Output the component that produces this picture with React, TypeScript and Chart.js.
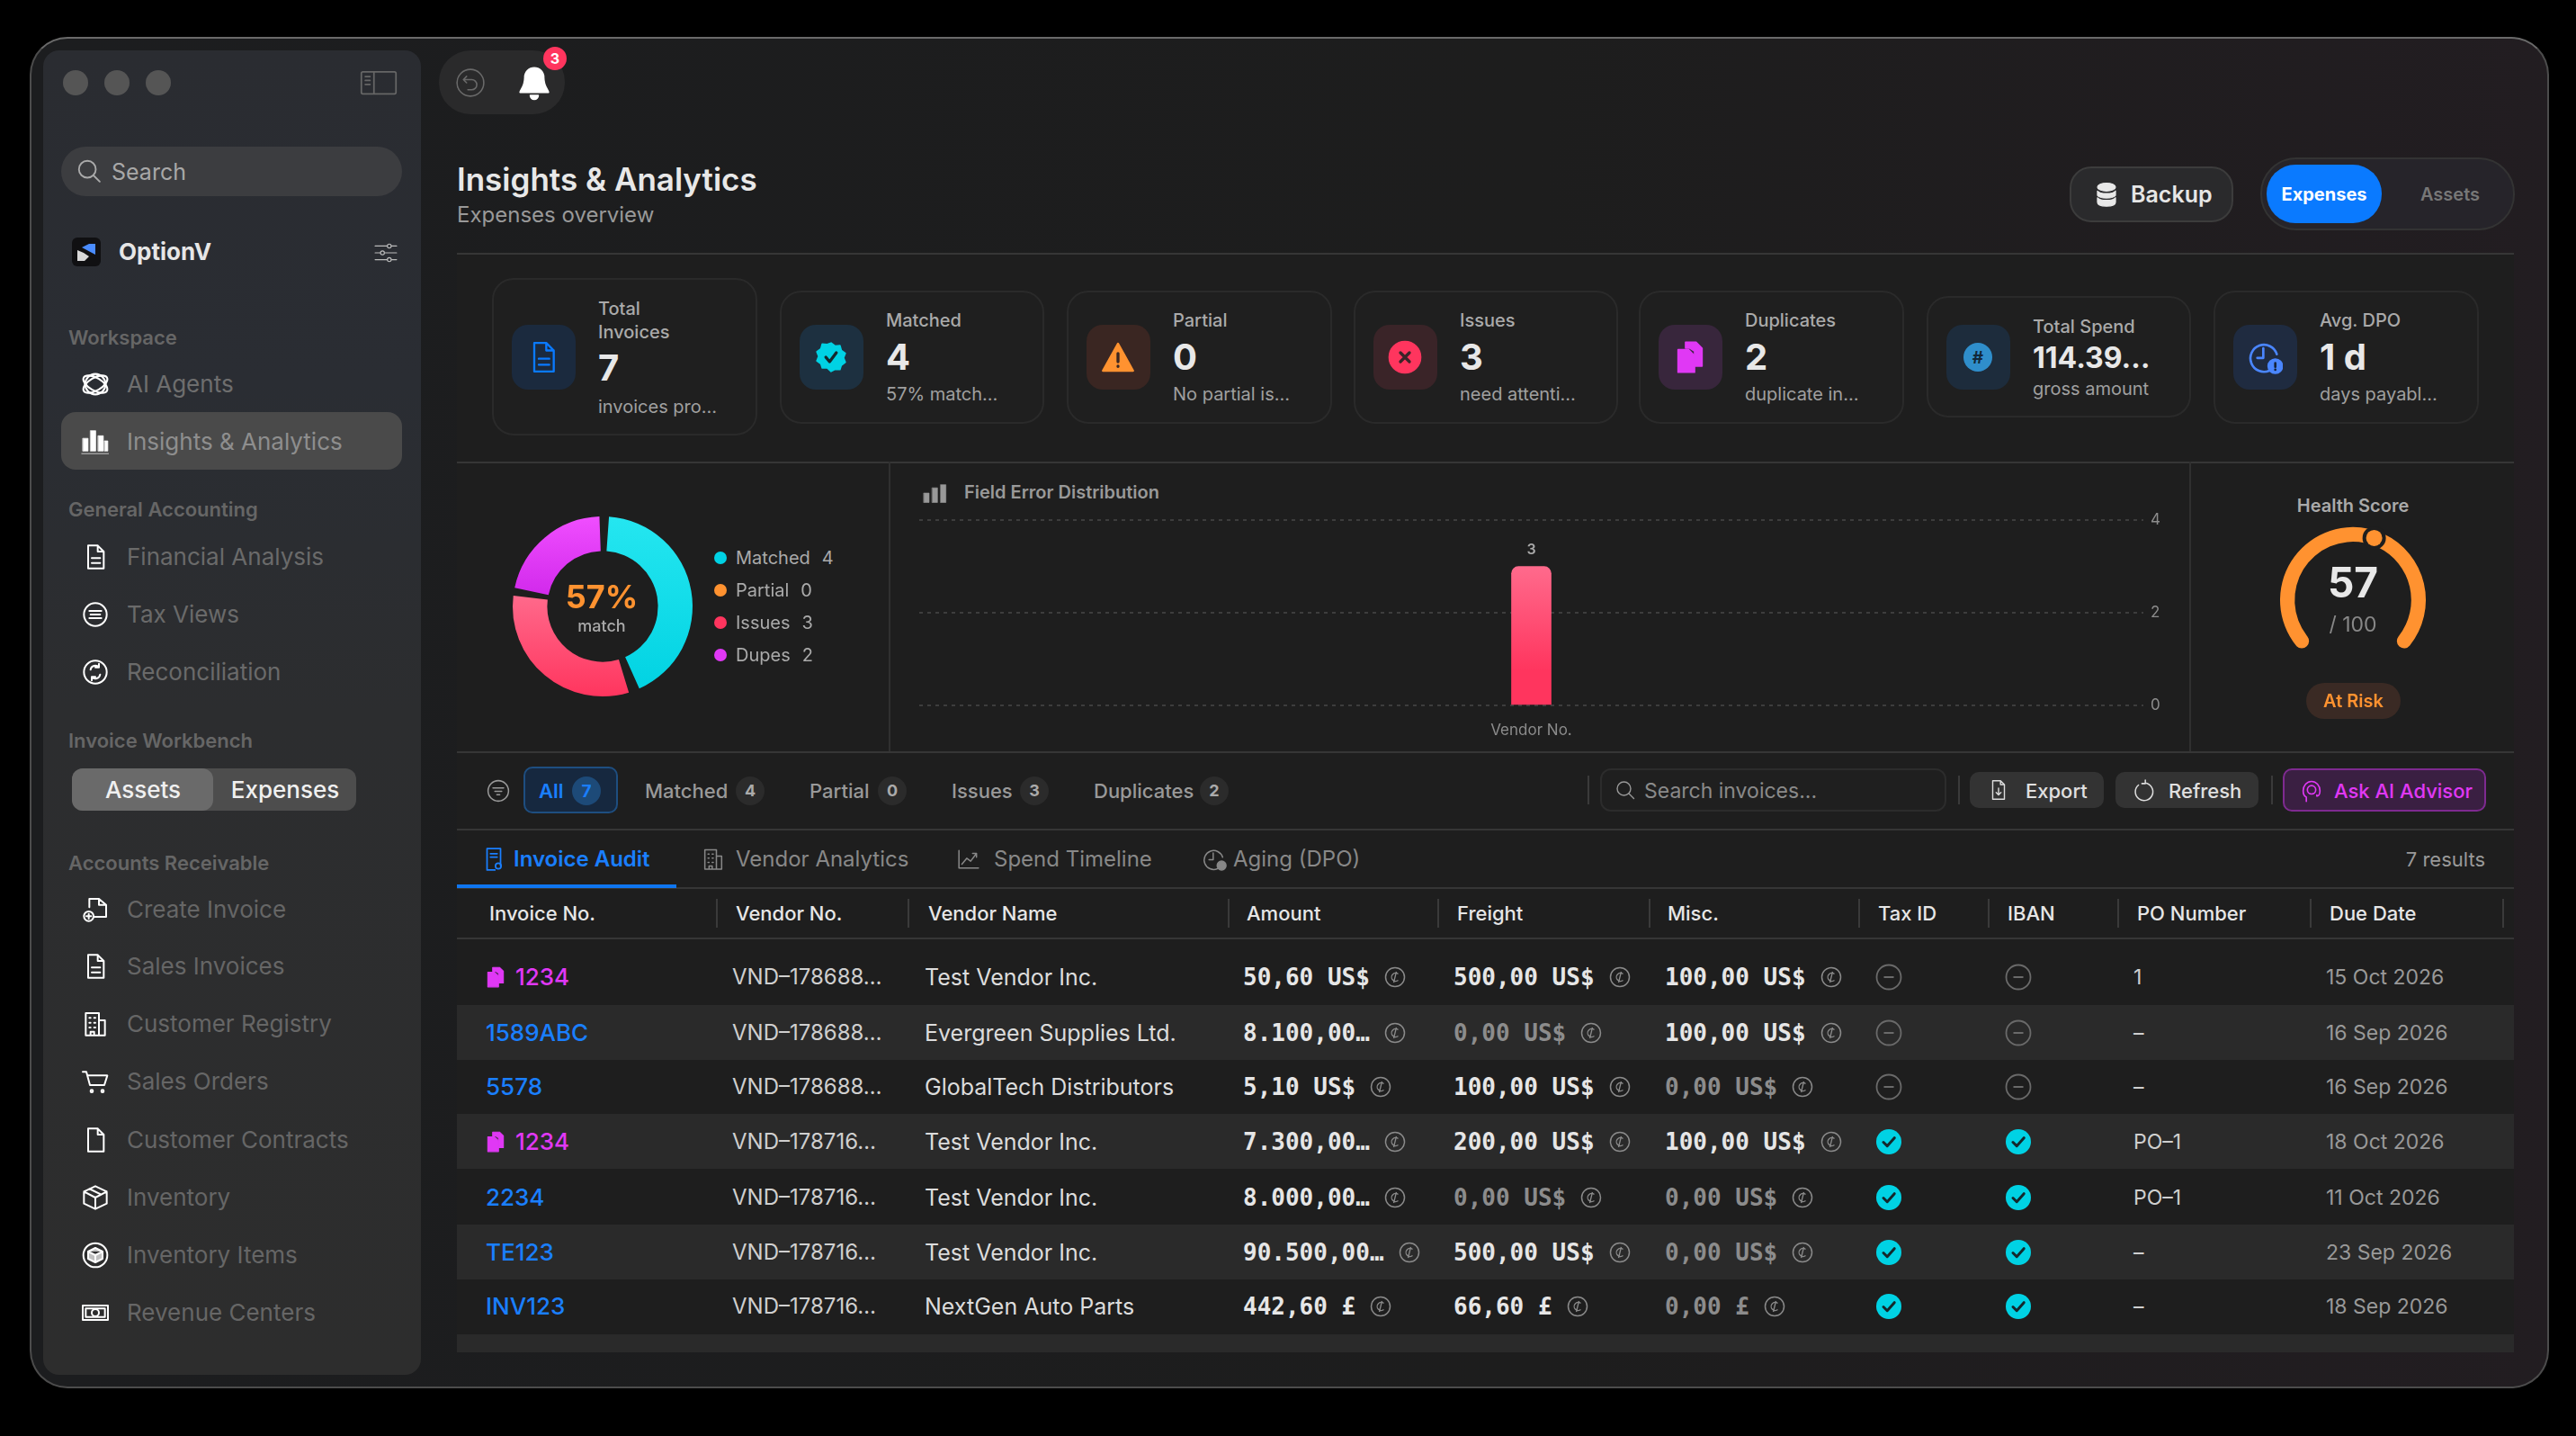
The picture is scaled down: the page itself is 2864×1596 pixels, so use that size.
import React, { useEffect, useRef } from "react";
import { Chart, registerables } from "chart.js";

Chart.register(...registerables);

const FONT = "Inter, 'Noto Sans', sans-serif";
const MONO = "'DejaVu Sans Mono', monospace";

// ---- chart data
const donutLabels = ["Matched", "Partial", "Issues", "Dupes"];
const donutValues = [4, 0, 3, 2];
const barLabels = ["Vendor No."];
const barValues = [3];
const axisMax = 4;
const axisStep = 2;
const healthScore = 57;
const healthMax = 100;

// ---- KPI cards
const kpiLabels = ["Total Invoices", "Matched", "Partial", "Issues", "Duplicates", "Total Spend", "Avg. DPO"];
const kpiValues = ["7", "4", "0", "3", "2", "114.39…", "1 d"];
const kpiNotes = ["invoices pro…", "57% match…", "No partial is…", "need attenti…", "duplicate in…", "gross amount", "days payabl…"];

// ---- table
const headers = ["Invoice No.", "Vendor No.", "Vendor Name", "Amount", "Freight", "Misc.", "Tax ID", "IBAN", "PO Number", "Due Date"];
const invoiceNos = ["1234", "1589ABC", "5578", "1234", "2234", "TE123", "INV123"];
const duplicateRows = [true, false, false, true, false, false, false];
const vendorNos = ["VND–178688…", "VND–178688…", "VND–178688…", "VND–178716…", "VND–178716…", "VND–178716…", "VND–178716…"];
const vendorNames = ["Test Vendor Inc.", "Evergreen Supplies Ltd.", "GlobalTech Distributors", "Test Vendor Inc.", "Test Vendor Inc.", "Test Vendor Inc.", "NextGen Auto Parts"];
const amounts = ["50,60 US$", "8.100,00…", "5,10 US$", "7.300,00…", "8.000,00…", "90.500,00…", "442,60 £"];
const freights = ["500,00 US$", "0,00 US$", "100,00 US$", "200,00 US$", "0,00 US$", "500,00 US$", "66,60 £"];
const miscs = ["100,00 US$", "100,00 US$", "0,00 US$", "100,00 US$", "0,00 US$", "0,00 US$", "0,00 £"];
const verified = [false, false, false, true, true, true, true];
const poNumbers = ["1", "–", "–", "PO–1", "PO–1", "–", "–"];
const dueDates = ["15 Oct 2026", "16 Sep 2026", "16 Sep 2026", "18 Oct 2026", "11 Oct 2026", "23 Sep 2026", "18 Sep 2026"];

// ---- filters + nav
const filterLabels = ["Matched", "Partial", "Issues", "Duplicates"];
const filterCounts = [4, 0, 3, 2];
const generalItems = ["Financial Analysis", "Tax Views", "Reconciliation"];
const receivableItems = ["Create Invoice", "Sales Invoices", "Customer Registry", "Sales Orders", "Customer Contracts", "Inventory", "Inventory Items", "Revenue Centers"];

const donutColors = [
  ["#25e6f0", "#00d2e2"],
  ["#ff9230", "#ff9230"],
  ["#ff6a8c", "#ff355e"],
  ["#f04eff", "#d22aec"],
];
const BG = "#1e1e1e";

const T = ({ x, y, s = 20, c = "#aaa", w = 400, a = "l", f = FONT, children }: any) => (
  <div
    style={{
      position: "absolute",
      left: x,
      top: y,
      fontFamily: f,
      fontSize: s,
      fontWeight: w,
      color: c,
      lineHeight: 1,
      whiteSpace: "nowrap",
      transform: `translate(${a === "c" ? "-50%" : a === "r" ? "-100%" : "0"},-50%)`,
    }}
  >
    {children}
  </div>
);

const Box = ({ x, y, x2, y2, bg, r = 0, b, st }: any) => (
  <div
    style={{
      position: "absolute",
      left: x,
      top: y,
      width: x2 - x,
      height: y2 - y,
      background: bg,
      borderRadius: r,
      boxSizing: "border-box",
      border: b ? `${st || 2}px solid ${b}` : undefined,
    }}
  />
);

const Svg = ({ x, y, w, h, c = "#fff", sw = 1.5, fill = "none", children }: any) => (
  <svg
    style={{ position: "absolute", left: x, top: y }}
    width={w}
    height={h || w}
    viewBox="0 0 24 24"
    fill={fill}
    stroke={c}
    strokeWidth={sw}
    strokeLinecap="round"
    strokeLinejoin="round"
  >
    {children}
  </svg>
);

const DocShape = () => <path d="M6 2.5h8l5 5v14H6z M14 2.5v5h5" />;
const DocLines = () => (
  <>
    <path d="M6 2.5h8l5 5v14H6z M14 2.5v5h5" />
    <path d="M9 13h7M9 17h7" />
  </>
);
const Building = () => <path d="M4 21.5V3h11v18.5zM15 9h5v12.5h-5M7 7h1M11 7h1M7 11h1M11 11h1M7 15h1M11 15h1M8 21.5v-3h3v3" />;

const navIcons: any = {
  "Financial Analysis": <DocLines />,
  "Tax Views": (
    <>
      <circle cx="12" cy="12" r="9.5" />
      <path d="M7 9h10M8 12h8M7 15h10" />
    </>
  ),
  Reconciliation: (
    <>
      <circle cx="12" cy="12" r="9.5" />
      <path d="M8 10a4 4 0 0 1 7-2M16 14a4 4 0 0 1-7 2M15 5v3h-3M9 19v-3h3" />
    </>
  ),
  "Create Invoice": (
    <>
      <path d="M7 10V3h8l6 5v10H11M15 3v5h6" />
      <circle cx="6.5" cy="17.5" r="4" />
      <path d="M4.5 17.5h4M6.5 15.5v4" />
    </>
  ),
  "Sales Invoices": <DocLines />,
  "Customer Registry": <Building />,
  "Sales Orders": (
    <>
      <path d="M1.5 4h3l3 11h12l2.5-8H5.5" />
      <circle cx="9" cy="20" r="1" />
      <circle cx="18" cy="20" r="1" />
    </>
  ),
  "Customer Contracts": <DocShape />,
  Inventory: <path d="M12 2.5l9.5 4.5v10L12 21.5 2.5 17V7zM2.5 7L12 12l9.5-5M12 12v9.5M7 4.7l9.5 4.6" />,
  "Inventory Items": (
    <>
      <circle cx="12" cy="12" r="10" />
      <path d="M12 6l6 3v6l-6 3-6-3V9zM6 9l6 3 6-3M12 12v6" fill="#fff" fillOpacity="0.7" />
    </>
  ),
  "Revenue Centers": (
    <>
      <path d="M1.5 6h21v12h-21zM4 8.5h16v7H4z" />
      <circle cx="12" cy="12" r="3" />
    </>
  ),
};

const Coin = ({ ml }: any) => (
  <svg width={24} height={24} viewBox="0 0 24 24" fill="none" stroke="#8a8a8a" strokeWidth="1.5" style={{ marginLeft: ml, flex: "none" }}>
    <circle cx="12" cy="12" r="10.5" />
    <path d="M15.5 8.5a4.5 4.5 0 1 0 0 7M13.5 6l-3 12" strokeWidth="1.3" />
  </svg>
);

const Money = ({ x, y, v }: any) => (
  <div
    style={{
      position: "absolute",
      left: x,
      top: y,
      transform: "translateY(-50%)",
      display: "flex",
      alignItems: "center",
      fontFamily: MONO,
      fontWeight: 700,
      fontSize: 26,
      whiteSpace: "nowrap",
      color: v.startsWith("0,00") ? "#8c8c8c" : "#e6e6e6",
      lineHeight: 1,
    }}
  >
    <span>{v}</span>
    <Coin ml={16} />
  </div>
);

const Status = ({ x, y, ok }: any) =>
  ok ? (
    <svg style={{ position: "absolute", left: x - 15, top: y - 15 }} width={30} height={30} viewBox="0 0 30 30">
      <circle cx="15" cy="15" r="14" fill="#00d2e4" />
      <path d="M9 15.5l4.2 4.2 8-9" fill="none" stroke="#14282c" strokeWidth="3" strokeLinecap="round" strokeLinejoin="round" />
    </svg>
  ) : (
    <svg style={{ position: "absolute", left: x - 15, top: y - 15 }} width={30} height={30} viewBox="0 0 30 30">
      <circle cx="15" cy="15" r="13.5" fill="none" stroke="#6a6a6a" strokeWidth="1.8" />
      <path d="M9.5 15h11" stroke="#6a6a6a" strokeWidth="2" />
    </svg>
  );

const kpiCards = [
  { x: 547, x2: 842, y: 309, y2: 484, bg: "#1b2a3e", ly: [343, 369], ny: 409, ty: 452, ns: 40 },
  { x: 867, x2: 1161, y: 323, y2: 471, bg: "#1d3040", ly: [356], ny: 397, ty: 438, ns: 40 },
  { x: 1186, x2: 1481, y: 323, y2: 471, bg: "#3a2622", ly: [356], ny: 397, ty: 438, ns: 40 },
  { x: 1505, x2: 1799, y: 323, y2: 471, bg: "#3a2428", ly: [356], ny: 397, ty: 438, ns: 40 },
  { x: 1822, x2: 2117, y: 323, y2: 471, bg: "#38263c", ly: [356], ny: 397, ty: 438, ns: 40 },
  { x: 2142, x2: 2436, y: 329, y2: 464, bg: "#1d2c3c", ly: [363], ny: 398, ty: 432, ns: 32 },
  { x: 2461, x2: 2756, y: 323, y2: 471, bg: "#1f2b40", ly: [356], ny: 397, ty: 438, ns: 40 },
];

const KpiIcon = ({ i, x, y }: any) => {
  const ix = x + 35 - 20;
  const iy = y - 20;
  if (i === 0)
    return (
      <Svg x={ix} y={iy} w={40} c="#0a7aff" sw={1.4}>
        <DocLines />
      </Svg>
    );
  if (i === 1)
    return (
      <Svg x={ix} y={iy} w={40} c="#00d2e4" fill="#00d2e4" sw={1}>
        <path d="M12 2.5l2.6 2 3.3-.3.9 3.2 2.7 2-1.2 3 1.2 3-2.7 2-.9 2.8-3.3-.1L12 21.5l-2.6-2.4-3.3.1-.9-2.8-2.7-2 1.2-3-1.2-3 2.7-2 .9-3.2 3.3.3z" />
        <path d="M8.5 12l2.5 3 4.5-6" stroke="#14282c" strokeWidth="2" fill="none" />
      </Svg>
    );
  if (i === 2)
    return (
      <Svg x={ix} y={iy} w={40} c="#ff9230" fill="#ff9230" sw={1.5}>
        <path d="M12 3L22 21H2z" />
        <path d="M12 9.5v5.5M12 18v.2" stroke="#3a2622" strokeWidth="2" />
      </Svg>
    );
  if (i === 3)
    return (
      <Svg x={ix} y={iy} w={40} c="#ff355e" fill="#ff355e" sw={1}>
        <circle cx="12" cy="12" r="10.5" />
        <path d="M9 9l6 6M15 9l-6 6" stroke="#3a2428" strokeWidth="2" />
      </Svg>
    );
  if (i === 4)
    return (
      <Svg x={ix} y={iy} w={40} c="#e038f5" fill="#e038f5" sw={1}>
        <path d="M9 2h7l4 4v12h-5V8l-3-2H9z" />
        <path d="M4 7h7l4 4v11H4z" />
      </Svg>
    );
  if (i === 5)
    return (
      <svg style={{ position: "absolute", left: ix + 3, top: iy + 3 }} width={34} height={34} viewBox="0 0 34 34">
        <circle cx="17" cy="17" r="16" fill="#2f8ecb" />
        <text x="17" y="23.5" textAnchor="middle" fontFamily={FONT} fontSize="19" fontWeight="700" fill="#12283a">
          #
        </text>
      </svg>
    );
  return (
    <Svg x={ix} y={iy} w={40} c="#4a86ff" sw={1.6}>
      <path d="M20 10a9 9 0 1 0-5 11M11 6v6.5H7" />
      <circle cx="19" cy="18" r="4.5" fill="#4a86ff" />
      <path d="M19 16v2.5M19 20.3v.1" stroke="#15233a" />
    </Svg>
  );
};

function DonutChart() {
  const ref = useRef<HTMLCanvasElement>(null);
  useEffect(() => {
    const ch = new Chart(ref.current!, {
      type: "doughnut",
      data: {
        labels: donutLabels,
        datasets: [
          {
            data: donutValues,
            borderWidth: 0,
            spacing: 8,
            backgroundColor: (ctx: any) => {
              if (ctx.type !== "data") return "#ff355e";
              const el = ctx.chart.ctx;
              const spans = [[20, 220], [20, 220], [106, 220], [20, 106]];
              const [a, b] = spans[ctx.dataIndex];
              const g = el.createLinearGradient(0, a, 0, b);
              g.addColorStop(0, donutColors[ctx.dataIndex][0]);
              g.addColorStop(1, donutColors[ctx.dataIndex][1]);
              return g;
            },
          } as any,
        ],
      },
      options: {
        responsive: false,
        animation: false,
        devicePixelRatio: 1,
        radius: 96,
        cutout: "60%",
        plugins: { legend: { display: false }, tooltip: { enabled: false } },
      } as any,
    });
    return () => ch.destroy();
  }, []);
  return <canvas ref={ref} width={240} height={240} style={{ position: "absolute", left: 550, top: 554 }} />;
}

function BarChart() {
  const ref = useRef<HTMLCanvasElement>(null);
  useEffect(() => {
    const valueLabel = {
      id: "valueLabel",
      afterDatasetsDraw(chart: any) {
        const c = chart.ctx;
        chart.getDatasetMeta(0).data.forEach((bar: any, i: number) => {
          c.save();
          c.font = `600 16px ${FONT}`;
          c.fillStyle = "#aaaaaa";
          c.textAlign = "center";
          c.textBaseline = "middle";
          c.fillText(String(barValues[i]), bar.x, bar.y - 18);
          c.restore();
        });
      },
    };
    const ch = new Chart(ref.current!, {
      type: "bar",
      data: {
        labels: barLabels,
        datasets: [
          {
            data: barValues,
            barThickness: 44,
            borderRadius: { topLeft: 8, topRight: 8, bottomLeft: 0, bottomRight: 0 },
            borderSkipped: false,
            backgroundColor: (ctx: any) => {
              const { ctx: c, scales } = ctx.chart;
              const y0 = scales.y ? scales.y.getPixelForValue(barValues[0]) : NaN;
              const y1 = scales.y ? scales.y.getPixelForValue(0) : NaN;
              if (!Number.isFinite(y0) || !Number.isFinite(y1)) return "#ff355e";
              const g = c.createLinearGradient(0, y0, 0, y1);
              g.addColorStop(0, "#ff6a8c");
              g.addColorStop(0.75, "#ff355e");
              g.addColorStop(1, "#ff355e");
              return g;
            },
          } as any,
        ],
      },
      options: {
        responsive: false,
        animation: false,
        devicePixelRatio: 1,
        layout: { padding: { top: 8, right: 0, bottom: 0, left: 0 } },
        plugins: { legend: { display: false }, tooltip: { enabled: false } },
        scales: {
          x: {
            grid: { display: false },
            border: { display: false },
            ticks: { color: "#8c8c8c", font: { family: FONT, size: 17 }, padding: 10 },
            afterFit: (s: any) => {
              s.height = 40;
            },
          },
          y: {
            position: "right",
            min: 0,
            max: axisMax,
            grid: { color: "#3d3d3d", lineWidth: 2, drawTicks: false } as any,
            border: { display: false, dash: [4, 5] },
            ticks: { stepSize: axisStep, color: "#8c8c8c", font: { family: FONT, size: 17 }, padding: 8 },
            afterFit: (s: any) => {
              s.width = 40;
            },
          },
        },
      },
      plugins: [valueLabel],
    } as any);
    return () => ch.destroy();
  }, []);
  return <canvas ref={ref} width={1401} height={264} style={{ position: "absolute", left: 1022, top: 560 }} />;
}

function GaugeChart() {
  const ref = useRef<HTMLCanvasElement>(null);
  useEffect(() => {
    const dot = {
      id: "dot",
      afterDatasetsDraw(chart: any) {
        const a = chart.getDatasetMeta(0).data[0];
        const r = (a.innerRadius + a.outerRadius) / 2;
        const px = a.x + Math.cos(a.endAngle) * r;
        const py = a.y + Math.sin(a.endAngle) * r;
        const c = chart.ctx;
        c.save();
        c.beginPath();
        c.arc(px, py, 13, 0, Math.PI * 2);
        c.fillStyle = BG;
        c.fill();
        c.beginPath();
        c.arc(px, py, 9, 0, Math.PI * 2);
        c.fillStyle = "#ff9230";
        c.fill();
        c.restore();
      },
    };
    const ch = new Chart(ref.current!, {
      type: "doughnut",
      data: {
        labels: ["Score", "Rest"],
        datasets: [
          {
            data: [healthScore, healthMax - healthScore],
            backgroundColor: ["#ff9230", "#ff9230"],
            borderWidth: 0,
            borderRadius: 8,
          },
        ],
      },
      options: {
        responsive: false,
        animation: false,
        devicePixelRatio: 1,
        rotation: -135,
        circumference: 270,
        radius: 81,
        cutout: "80%",
        plugins: { legend: { display: false }, tooltip: { enabled: false } },
      },
      plugins: [dot],
    } as any);
    return () => ch.destroy();
  }, []);
  return <canvas ref={ref} width={200} height={200} style={{ position: "absolute", left: 2516, top: 555 }} />;
}

export default function App() {
  useEffect(() => {
    document.body.style.margin = "0";
    document.body.style.background = "#000";
  }, []);
  const rowY = [1086, 1148, 1208, 1269, 1331, 1392, 1452];
  const headX = [544, 818, 1032, 1386, 1620, 1854, 2088, 2232, 2376, 2590];
  const divX = [797, 1010, 1366, 1599, 1834, 2067, 2211, 2355, 2569, 2783];
  const lines = [281, 513, 835, 921, 986, 1042];
  const filterX = [717, 900, 1058, 1216];
  const badgeX = [834, 992, 1150, 1350];
  const legendY = [620, 656, 692, 728];
  const legendC = ["#00d2e4", "#ff9230", "#ff355e", "#e038f5"];
  const genY = [619, 683, 747];
  const recY = [1011, 1074, 1138, 1202, 1267, 1331, 1395, 1459];

  return (
    <div style={{ position: "fixed", left: 0, top: 0, width: 2864, height: 1596, background: "#000", overflow: "hidden" }}>
      {/* window */}
      <div
        style={{
          position: "absolute",
          left: 33,
          top: 41,
          width: 2801,
          height: 1502,
          borderRadius: 42,
          background: "linear-gradient(90deg,#1c1d1f 0%,#1d1d1d 60%,#221d21 100%)",
          border: "2px solid #4c4c4c",
          borderTopColor: "#6a6a6a",
          boxSizing: "border-box",
        }}
      />
      {/* sidebar */}
      <div
        style={{
          position: "absolute",
          left: 48,
          top: 56,
          width: 420,
          height: 1472,
          borderRadius: 18,
          overflow: "hidden",
          background: "linear-gradient(180deg,#2a2c31 0%,#2a2d33 25%,#2c2d2f 50%,#2d2d2d 100%)",
        }}
      >
        <div style={{ position: "absolute", left: -48, top: -56, width: 2864, height: 1596 }}>
          <T x={76} y={1537} s={22} w={600} c="#6a6a6a">
            Accounts Payable
          </T>
        </div>
      </div>
      {[84, 130, 176].map((x) => (
        <Box key={x} x={x - 14} y={78} x2={x + 14} y2={106} r={14} bg="#555" />
      ))}
      <Svg x={400} y={71} w={42} c="#666" sw={1}>
        <path d="M2 5h20a1 1 0 0 1 1 1v12a1 1 0 0 1-1 1H2a1 1 0 0 1-1-1V6a1 1 0 0 1 1-1zM9 5v14M3.5 8h3M3.5 10.5h3M3.5 13h3" />
      </Svg>
      <Box x={68} y={163} x2={447} y2={218} r={28} bg="#3c3d40" />
      <Svg x={84} y={175} w={30} c="#aaa" sw={1.5}>
        <circle cx="10.5" cy="10.5" r="7.5" />
        <path d="M16 16l5.5 5.5" />
      </Svg>
      <T x={124} y={191} s={25} c="#a8a8a8">
        Search
      </T>
      <Box x={80} y={264} x2={112} y2={296} r={6} bg="#101012" />
      <svg style={{ position: "absolute", left: 80, top: 264 }} width={32} height={32} viewBox="0 0 32 32">
        <path d="M11 11l8-4h7v12z" fill="#4a8cff" />
        <path d="M6 14l7 3 6 4-5 5H6z" fill="#d8d8d8" />
      </svg>
      <T x={132} y={280} s={26} w={700} c="#e6e6e6">
        OptionV
      </T>
      <Svg x={416} y={268} w={26} c="#bbb" sw={1.1}>
        <path d="M1 5h12M18 5h5M1 12h5M11 12h12M1 19h12M18 19h5" />
        <circle cx="15.5" cy="5" r="2" />
        <circle cx="8.5" cy="12" r="2" />
        <circle cx="15.5" cy="19" r="2" />
      </Svg>
      <T x={76} y={375} s={22} w={600} c="#666">
        Workspace
      </T>
      <Svg x={89} y={410} w={34} sw={1.5}>
        <circle cx="12" cy="12" r="8" />
        <ellipse cx="12" cy="12" rx="10.5" ry="5" transform="rotate(30 12 12)" />
        <ellipse cx="12" cy="12" rx="10.5" ry="5" transform="rotate(-30 12 12)" />
      </Svg>
      <T x={141} y={427} s={26} c="#6e6e6e">
        AI Agents
      </T>
      <Box x={68} y={458} x2={447} y2={522} r={16} bg="#4a4a4a" />
      <Svg x={88} y={473} w={34} fill="#fff" sw={0.5}>
        <path d="M3 10h4v10H3zM9 4h4v16H9zM15 8h4v12h-4zM20 12h2.5v8H20zM2 22h21" />
      </Svg>
      <T x={141} y={491} s={26} c="#8e8e8e">
        Insights &amp; Analytics
      </T>
      <T x={76} y={566} s={22} w={600} c="#666">
        General Accounting
      </T>
      {generalItems.map((t, i) => (
        <React.Fragment key={t}>
          <Svg x={90} y={genY[i] - 16} w={32}>
            {navIcons[t]}
          </Svg>
          <T x={141} y={genY[i]} s={26} c="#6a6a6a">
            {t}
          </T>
        </React.Fragment>
      ))}
      <T x={76} y={823} s={22} w={600} c="#666">
        Invoice Workbench
      </T>
      <Box x={80} y={854} x2={396} y2={901} r={12} bg="#4d4d4d" />
      <Box x={80} y={854} x2={237} y2={901} r={12} bg="#6a6a6a" />
      <T x={159} y={878} s={26} w={500} a="c" c="#f0f0f0">
        Assets
      </T>
      <T x={317} y={878} s={26} w={500} a="c" c="#f0f0f0">
        Expenses
      </T>
      <T x={76} y={959} s={22} w={600} c="#666">
        Accounts Receivable
      </T>
      {receivableItems.map((t, i) => (
        <React.Fragment key={t}>
          <Svg x={90} y={recY[i] - 16} w={32}>
            {navIcons[t]}
          </Svg>
          <T x={141} y={recY[i]} s={26} c="#666">
            {t}
          </T>
        </React.Fragment>
      ))}

      {/* top controls */}
      <Box x={488} y={56} x2={628} y2={127} r={35} bg="#2a2a2b" />
      <Svg x={506} y={75} w={34} c="#6a6a6a" sw={1.1}>
        <circle cx="12" cy="12" r="10.5" />
        <path d="M9 7L6.5 9.5 9 12M6.5 9.5H13a4 4 0 0 1 0 8h-3" />
      </Svg>
      <Svg x={573} y={71} w={42} fill="#fff" c="#fff" sw={1}>
        <path d="M12 2.5a6 6 0 0 1 6 6c0 6 3 8 3 9.5H3c0-1.5 3-3.5 3-9.5a6 6 0 0 1 6-6z" />
        <path d="M9.5 20a2.5 2.5 0 0 0 5 0z" />
      </Svg>
      <Box x={604} y={52} x2={630} y2={78} r={13} bg="#ff355e" />
      <T x={617} y={65} s={16} w={700} c="#fff" a="c">
        3
      </T>
      <T x={508} y={199} s={35} w={600} c="#e8e8e8">
        Insights &amp; Analytics
      </T>
      <T x={508} y={239} s={24} c="#999">
        Expenses overview
      </T>

      <Box x={2301} y={185} x2={2483} y2={247} r={24} bg="#2a2a2c" b="#3c3c3c" />
      <Svg x={2327} y={201} w={30} fill="#e8e8e8" c="#e8e8e8" sw={1}>
        <ellipse cx="12" cy="5.5" rx="8" ry="3.5" />
        <path d="M4 9c2 3 14 3 16 0v4c-2 3-14 3-16 0zM4 15c2 3 14 3 16 0v4c0 2-3 3.5-8 3.5s-8-1.5-8-3.5z" />
      </Svg>
      <T x={2369} y={216} s={25} w={600} c="#e6e6e6">
        Backup
      </T>
      <Box x={2513} y={175} x2={2796} y2={256} r={40} bg="#26242a" b="#333" />
      <Box x={2520} y={183} x2={2648} y2={248} r={32} bg="#0a7aff" />
      <T x={2584} y={216} s={20} w={700} c="#fff" a="c">
        Expenses
      </T>
      <T x={2724} y={216} s={20} w={600} c="#777" a="c">
        Assets
      </T>

      {/* main panel */}
      <Box x={508} y={281} x2={2795} y2={1503} bg={BG} />
      {lines.map((y) => (
        <Box key={y} x={508} y={y} x2={2795} y2={y + 2} bg="#363636" />
      ))}
      <Box x={988} y={513} x2={990} y2={835} bg="#303030" />
      <Box x={2434} y={513} x2={2436} y2={835} bg="#303030" />

      {/* KPI cards */}
      {kpiCards.map((k, i) => {
        const tx = k.x + 118;
        const iconX = k.x + 22;
        const labels = i === 0 ? ["Total", "Invoices"] : [kpiLabels[i]];
        return (
          <React.Fragment key={kpiLabels[i]}>
            <Box x={k.x} y={k.y} x2={k.x2} y2={k.y2} r={24} bg="#1f1f1f" b="#2a2a2a" />
            <Box x={iconX} y={361} x2={iconX + 71} y2={433} r={18} bg={k.bg} />
            <KpiIcon i={i} x={iconX} y={397} />
            {labels.map((l, j) => (
              <T key={l} x={tx} y={k.ly[j]} s={20} w={500} c="#aaa">
                {l}
              </T>
            ))}
            <T x={tx} y={k.ny} s={k.ns} w={700} c="#e8e8e8">
              {kpiValues[i]}
            </T>
            <T x={tx} y={k.ty} s={20} c="#a0a0a0">
              {kpiNotes[i]}
            </T>
          </React.Fragment>
        );
      })}

      {/* donut */}
      <DonutChart />
      <T x={669} y={663} s={36} w={700} c="#ff9230" a="c">
        57%
      </T>
      <T x={669} y={696} s={18} w={500} c="#aaa" a="c">
        match
      </T>
      {donutLabels.map((l, i) => (
        <React.Fragment key={l}>
          <Box x={794} y={legendY[i] - 7} x2={808} y2={legendY[i] + 7} r={7} bg={legendC[i]} />
          <T x={818} y={legendY[i]} s={20} c="#aaa">
            {l}
            <span style={{ marginLeft: 13 }}>{donutValues[i]}</span>
          </T>
        </React.Fragment>
      ))}

      {/* bar */}
      <Svg x={1026} y={534} w={28} fill="#999" c="#999" sw={0.5}>
        <path d="M1 12h5v9H1zM9 7h5v14H9zM17 4h5v17h-5z" />
      </Svg>
      <T x={1072} y={547} s={20} w={600} c="#999">
        Field Error Distribution
      </T>
      <BarChart />

      {/* gauge */}
      <T x={2616} y={562} s={20} w={600} c="#aaa" a="c">
        Health Score
      </T>
      <GaugeChart />
      <T x={2616} y={647} s={46} w={700} c="#e8e8e8" a="c">
        {healthScore}
      </T>
      <T x={2616} y={694} s={23} c="#888" a="c">
        / {healthMax}
      </T>
      <Box x={2564} y={759} x2={2669} y2={799} r={20} bg="#3a2a24" />
      <T x={2616.5} y={779} s={20} w={600} c="#ff9230" a="c">
        At Risk
      </T>

      {/* filter row */}
      <Svg x={541} y={866} w={26} c="#999" sw={1.4}>
        <circle cx="12" cy="12" r="10.5" />
        <path d="M6.5 9h11M8.5 12.5h7M10.5 16h3" />
      </Svg>
      <Box x={582} y={852} x2={687} y2={904} r={10} bg="#16283f" b="#1e4e80" />
      <T x={599} y={879} s={22} w={600} c="#1a7fff">
        All
      </T>
      <Box x={636} y={863} x2={668} y2={895} r={16} bg="#1d4a78" />
      <T x={652} y={879} s={19} w={700} c="#1a7fff" a="c">
        7
      </T>
      {filterLabels.map((l, i) => (
        <React.Fragment key={l}>
          <T x={filterX[i]} y={879} s={22} w={500} c="#999">
            {l}
          </T>
          <Box x={badgeX[i] - 16} y={863} x2={badgeX[i] + 16} y2={895} r={16} bg="#2b2b2b" />
          <T x={badgeX[i]} y={879} s={18} w={700} c="#aaa" a="c">
            {filterCounts[i]}
          </T>
        </React.Fragment>
      ))}
      {[1765, 2177, 2525].map((x) => (
        <Box key={x} x={x} y={862} x2={x + 2} y2={894} bg="#3a3a3a" />
      ))}
      <Box x={1779} y={854} x2={2164} y2={902} r={12} bg="#1f1f1f" b="#2c2c2c" />
      <Svg x={1795} y={866} w={24} c="#999" sw={1.4}>
        <circle cx="10.5" cy="10.5" r="7.5" />
        <path d="M16 16l5.5 5.5" />
      </Svg>
      <T x={1828} y={879} s={23} c="#8a8a8a">
        Search invoices...
      </T>
      <Box x={2190} y={858} x2={2339} y2={898} r={10} bg="#333" />
      <Svg x={2209} y={865} w={26} c="#ddd" sw={1.3}>
        <path d="M6 2.5h8l4 4v15H6zM14 2.5v4h4M12 10v7M9.5 14.5L12 17l2.5-2.5" />
      </Svg>
      <T x={2252} y={879} s={22} w={500} c="#e0e0e0">
        Export
      </T>
      <Box x={2352} y={858} x2={2511} y2={898} r={10} bg="#333" />
      <Svg x={2370} y={866} w={26} c="#ddd" sw={1.4}>
        <path d="M7 6a9 9 0 1 0 7-2M14 1v3.5h-3.5" />
      </Svg>
      <T x={2411} y={879} s={22} w={500} c="#e0e0e0">
        Refresh
      </T>
      <Box x={2538} y={854} x2={2764} y2={902} r={10} bg="#3a1f42" b="#7e2a90" />
      <Svg x={2556} y={865} w={28} c="#e038f5" sw={1.4}>
        <path d="M7 22v-4c-2-1-3-3-3-6 0-5 3.5-9 8-9s8 4 8 9c0 4-2 5-3 5v-1M12 7a4 4 0 0 1 4 4 4 4 0 0 1-4 4 4 4 0 0 1-4-4 4 4 0 0 1 4-4z" />
      </Svg>
      <T x={2595} y={879} s={22} w={500} c="#e038f5">
        Ask AI Advisor
      </T>

      {/* tabs */}
      <Svg x={534} y={940} w={30} c="#1a7fff" sw={1.4}>
        <path d="M6 2.5h12v15M6 2.5v19h7M9 7h6M9 10h6" />
        <circle cx="16" cy="18" r="2.5" />
      </Svg>
      <T x={571} y={955} s={24} w={600} c="#1a7fff">
        Invoice Audit
      </T>
      <Box x={508} y={983} x2={752} y2={987} bg="#0f76f0" />
      <Svg x={779} y={941} w={28} c="#888" sw={1.3}>
        <Building />
      </Svg>
      <T x={818} y={955} s={24} c="#888">
        Vendor Analytics
      </T>
      <Svg x={1064} y={942} w={26} c="#888" sw={1.4}>
        <path d="M2 3v18h20M5 17l5-6 4 3 6-8M16 6h4v4" />
      </Svg>
      <T x={1105} y={955} s={24} c="#888">
        Spend Timeline
      </T>
      <Svg x={1336} y={941} w={28} c="#888" sw={1.3}>
        <path d="M20 10a9 9 0 1 0-5 11M11 6v6.5H7" />
        <circle cx="19" cy="18" r="4.2" fill="#888" />
      </Svg>
      <T x={1371} y={955} s={24} c="#888">
        Aging (DPO)
      </T>
      <T x={2763} y={955} s={22} c="#999" a="r">
        7 results
      </T>

      {/* table header */}
      {headers.map((h, i) => (
        <React.Fragment key={h}>
          <T x={headX[i]} y={1015} s={22} w={500} c="#e6e6e6">
            {h}
          </T>
          <Box x={divX[i] - 1} y={999} x2={divX[i] + 1} y2={1031} bg="#3a3a3a" />
        </React.Fragment>
      ))}

      {/* rows */}
      {rowY.map((y, i) =>
        i % 2 === 1 ? <Box key={y} x={508} y={y - 31} x2={2795} y2={y + 30} bg="#2a2a2a" /> : null
      )}
      <Box x={508} y={1483} x2={2795} y2={1503} bg="#2a2a2a" />
      {rowY.map((y, i) => (
        <React.Fragment key={y}>
          {duplicateRows[i] && (
            <Svg x={538} y={y - 13} w={26} c="#e038f5" fill="#e038f5" sw={1}>
              <path d="M9 2h7l4 4v12h-5V8l-3-2H9z" />
              <path d="M4 7h7l4 4v11H4z" />
            </Svg>
          )}
          <T x={duplicateRows[i] ? 573 : 540} y={y} s={26} w={500} c={duplicateRows[i] ? "#e038f5" : "#1a7fff"}>
            {invoiceNos[i]}
          </T>
          <T x={814} y={y} s={24} c="#cfcfcf">
            {vendorNos[i]}
          </T>
          <T x={1028} y={y} s={25} c="#dcdcdc">
            {vendorNames[i]}
          </T>
          <Money x={1382} y={y} v={amounts[i]} />
          <Money x={1616} y={y} v={freights[i]} />
          <Money x={1851} y={y} v={miscs[i]} />
          <Status x={2100} y={y} ok={verified[i]} />
          <Status x={2244} y={y} ok={verified[i]} />
          <T x={2372} y={y} s={23} c="#cfcfcf">
            {poNumbers[i]}
          </T>
          <T x={2586} y={y} s={23} c="#999">
            {dueDates[i]}
          </T>
        </React.Fragment>
      ))}
    </div>
  );
}
